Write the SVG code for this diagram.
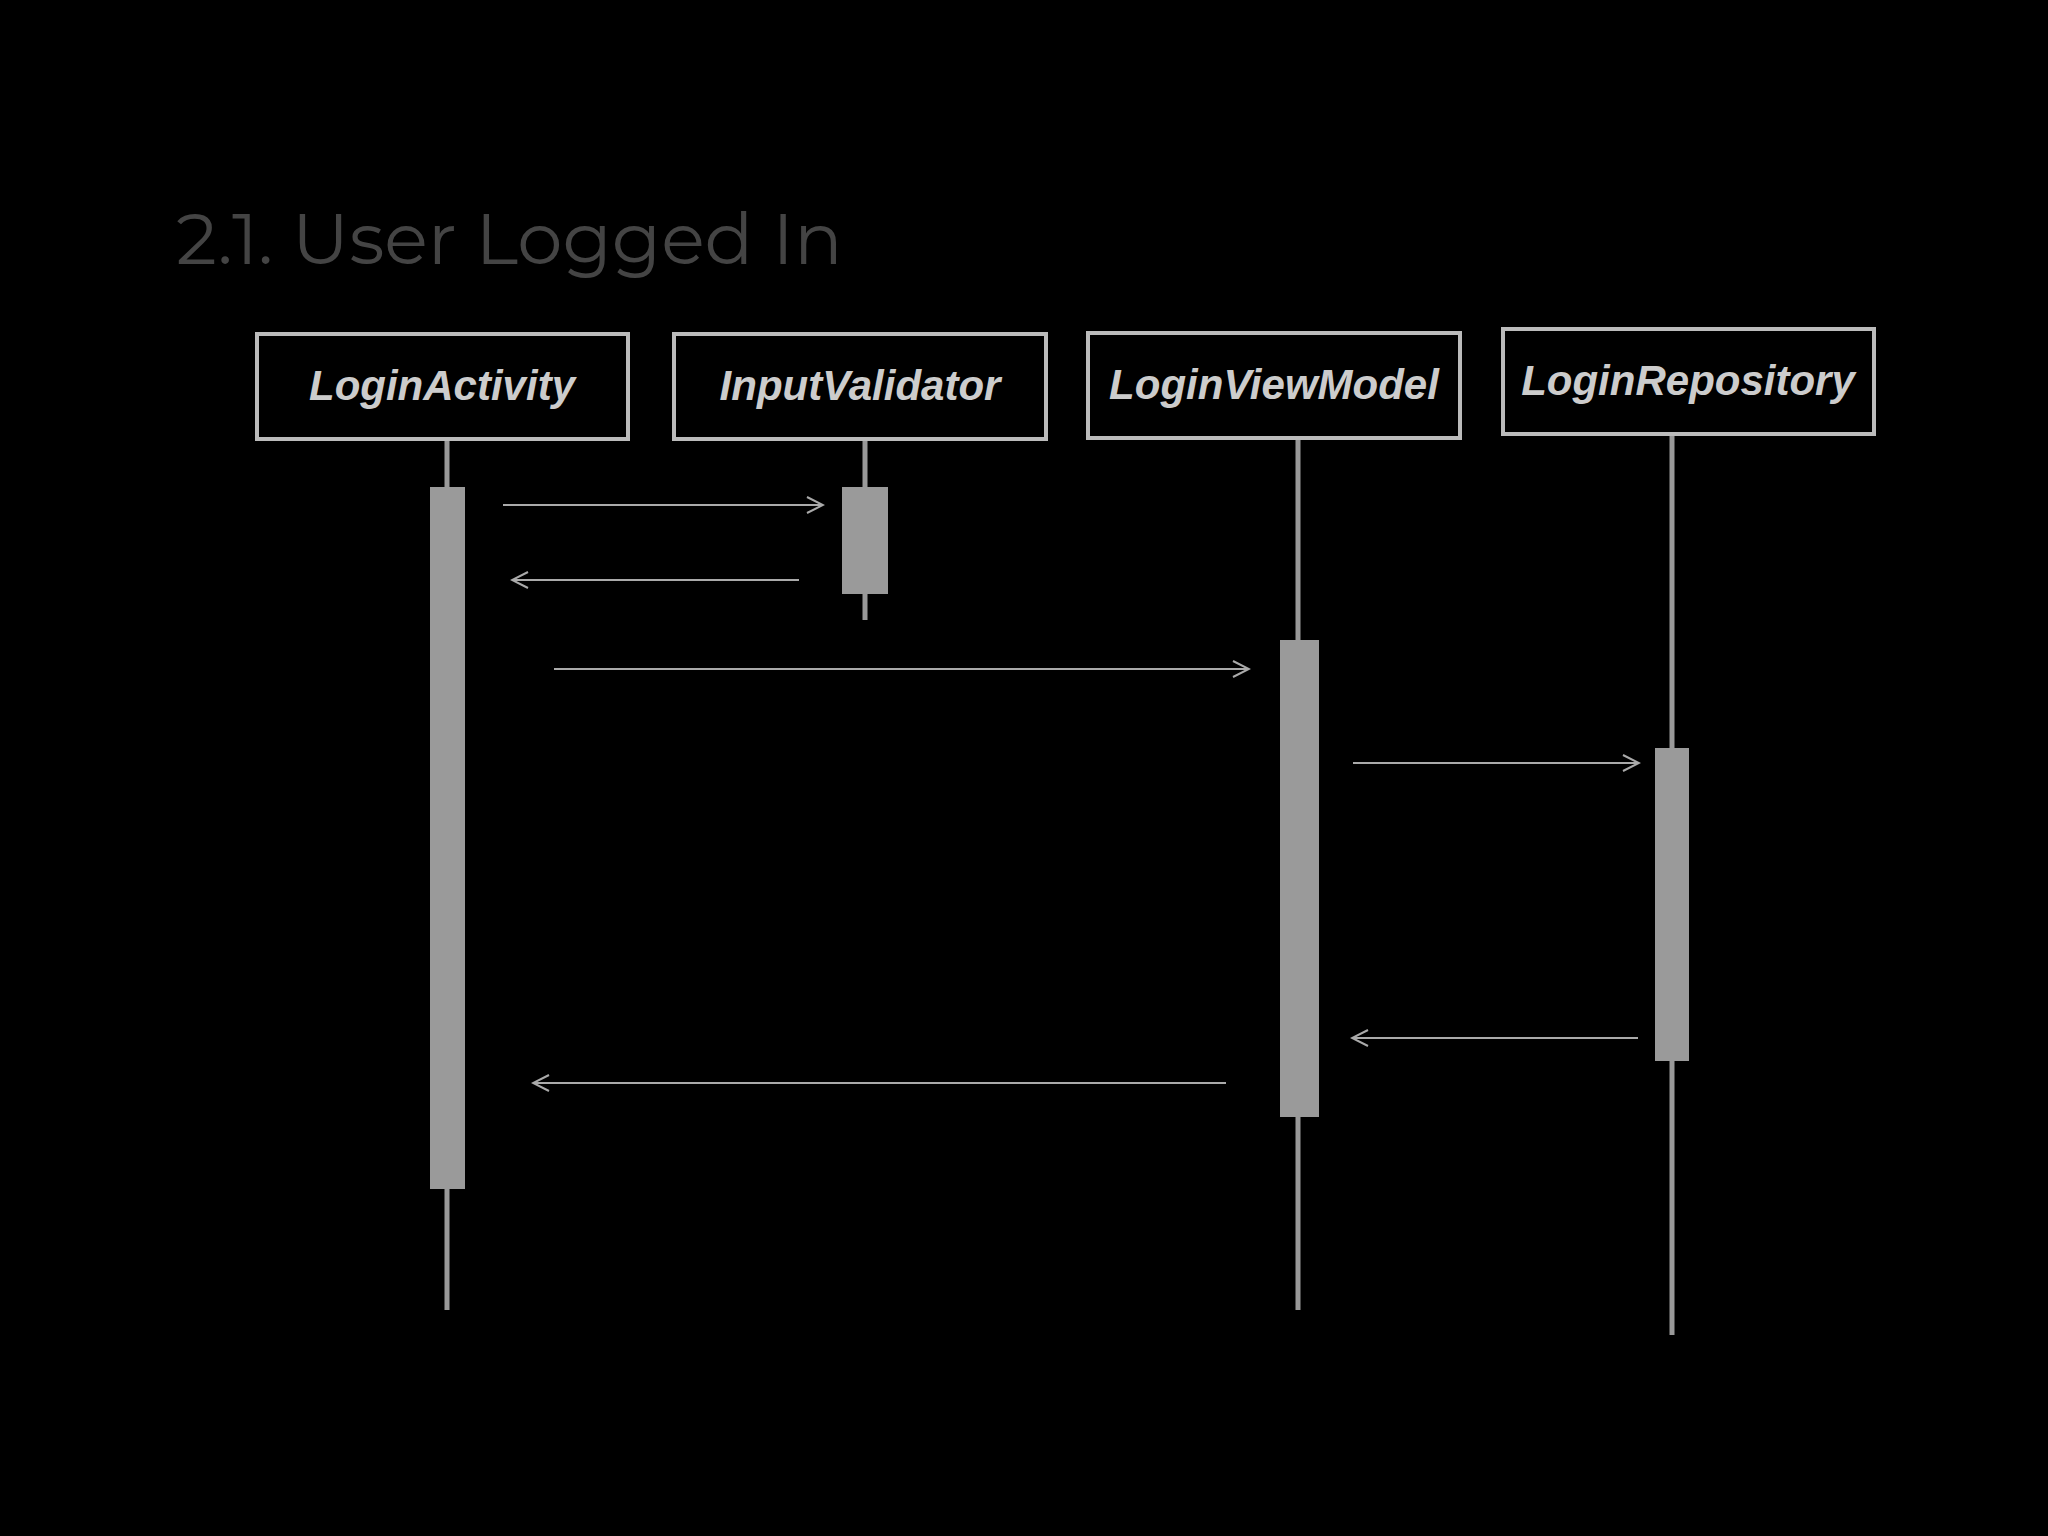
<svg xmlns="http://www.w3.org/2000/svg" width="2048" height="1536" viewBox="0 0 2048 1536">
<style>
.box{fill:#000;stroke:#bbb;stroke-width:4}
.lbl{font-family:"Liberation Sans",Arial,sans-serif;font-weight:bold;font-style:italic;font-size:42px;fill:#ccc;text-anchor:middle}
.life{stroke:#999;stroke-width:5}
.act{fill:#9a9a9a}
.msg{stroke:#aaa;stroke-width:2;fill:none}
</style>
<defs>
<marker id="ah" viewBox="0 0 20 20" refX="18" refY="10" markerWidth="20" markerHeight="20" markerUnits="userSpaceOnUse" orient="auto">
<path d="M2,2 L18,10 L2,18" fill="none" stroke="#aaa" stroke-width="2"/>
</marker>
</defs>
<rect width="2048" height="1536" fill="#000"/>
<text x="176" y="264" font-family="Montserrat,'Open Sans',sans-serif" font-size="72" fill="#444">2.1.  User Logged In</text>
<g id="LoginActivity">
<line class="life" x1="447" y1="439" x2="447" y2="1310"/>
<rect class="box" x="257" y="334" width="371" height="105"/>
<text class="lbl" x="442" y="400">LoginActivity</text>
<rect class="act" x="430" y="487" width="35" height="702"/>
</g>
<g id="InputValidator">
<line class="life" x1="865" y1="439" x2="865" y2="620"/>
<rect class="box" x="674" y="334" width="372" height="105"/>
<text class="lbl" x="860" y="400">InputValidator</text>
<rect class="act" x="842" y="487" width="46" height="107"/>
</g>
<g id="LoginViewModel">
<line class="life" x1="1298" y1="438" x2="1298" y2="1310"/>
<rect class="box" x="1088" y="333" width="372" height="105"/>
<text class="lbl" x="1274" y="399">LoginViewModel</text>
<rect class="act" x="1280" y="640" width="39" height="477"/>
</g>
<g id="LoginRepository">
<line class="life" x1="1672" y1="434" x2="1672" y2="1335"/>
<rect class="box" x="1503" y="329" width="371" height="105"/>
<text class="lbl" x="1688" y="395">LoginRepository</text>
<rect class="act" x="1655" y="748" width="34" height="313"/>
</g>
<g id="connectors">
<line class="msg" x1="503" y1="505" x2="823" y2="505" marker-end="url(#ah)"/>
<line class="msg" x1="799" y1="580" x2="512" y2="580" marker-end="url(#ah)"/>
<line class="msg" x1="554" y1="669" x2="1249" y2="669" marker-end="url(#ah)"/>
<line class="msg" x1="1353" y1="763" x2="1639" y2="763" marker-end="url(#ah)"/>
<line class="msg" x1="1638" y1="1038" x2="1352" y2="1038" marker-end="url(#ah)"/>
<line class="msg" x1="1226" y1="1083" x2="533" y2="1083" marker-end="url(#ah)"/>
</g>
</svg>
